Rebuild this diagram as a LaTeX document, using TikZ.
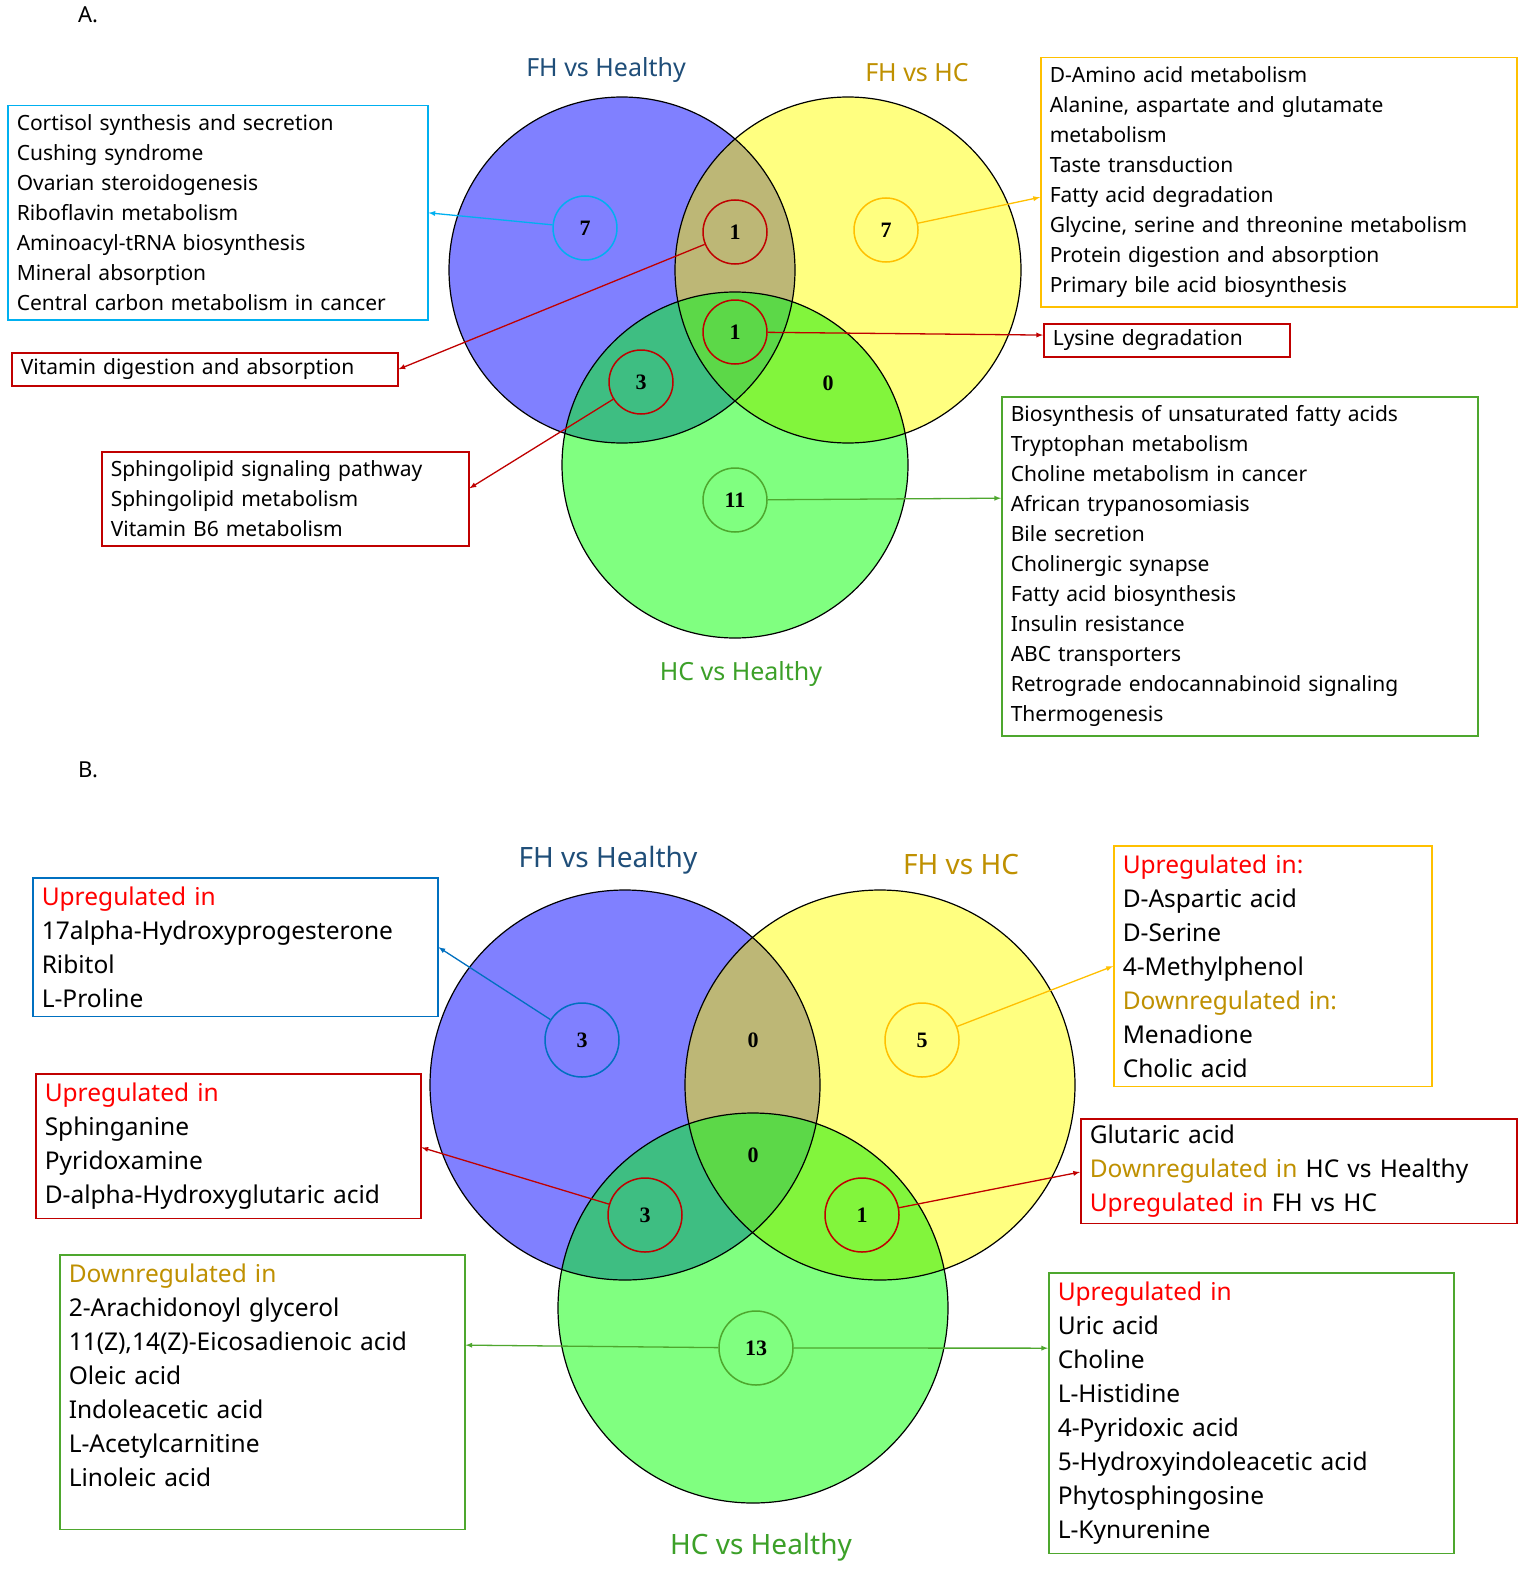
\documentclass[tikz,border=0pt]{standalone}
\usepackage{fontspec}
\setmainfont{Noto Sans}
\newfontfamily\numf{Liberation Serif}
\usetikzlibrary{calc}
\definecolor{cb}{RGB}{128,128,255}
\definecolor{cy}{RGB}{255,255,128}
\definecolor{cg}{RGB}{128,255,128}
\definecolor{cby}{RGB}{189,183,118}
\definecolor{cbg}{RGB}{62,190,130}
\definecolor{cyg}{RGB}{130,245,60}
\definecolor{cbyg}{RGB}{92,216,72}
\definecolor{tblue}{RGB}{31,78,121}
\definecolor{tgold}{RGB}{191,144,0}
\definecolor{tgreen}{RGB}{60,160,40}
\definecolor{bxblue}{RGB}{0,176,240}
\definecolor{bxblue2}{RGB}{0,112,192}
\definecolor{bxyel}{RGB}{255,192,0}
\definecolor{bxred}{RGB}{192,0,0}
\definecolor{bxgreen}{RGB}{78,167,46}
\definecolor{upred}{RGB}{255,0,0}
\begin{document}
\begin{tikzpicture}[x=1pt,y=-1pt,
  ttl/.style={font=\fontsize{25}{30}\selectfont\bfseries},
  boxA/.style={draw,line width=1.5pt,anchor=north west,align=left,inner sep=9pt,font=\fontsize{21}{30}\selectfont},
  boxB/.style={draw,line width=1.5pt,anchor=north west,align=left,inner sep=9pt,font=\fontsize{24.5}{34}\selectfont},
  num/.style={circle,line width=1.5pt,font=\numf\fontsize{22}{22}\selectfont\bfseries},
  arr/.style={line width=1.3pt,-latex}]
\useasboundingbox (0,0) rectangle (1535,1581);
\fill[white] (0,0) rectangle (1535,1581);
\node[font=\fontsize{22}{22}\selectfont\bfseries] (la) at (88,15) {A.};
\node[font=\fontsize{22}{22}\selectfont\bfseries] (lb) at (88,770) {B.};
% ---------- Panel A Venn
\def\CA{(622,270) circle (173)}
\def\CB{(848,270) circle (173)}
\def\CC{(735,465) circle (173)}
\fill[cb] \CA; \fill[cy] \CB; \fill[cg] \CC;
\begin{scope}\clip \CA; \fill[cby] \CB;\end{scope}
\begin{scope}\clip \CA; \fill[cbg] \CC;\end{scope}
\begin{scope}\clip \CB; \fill[cyg] \CC;\end{scope}
\begin{scope}\clip \CA; \clip \CB; \fill[cbyg] \CC;\end{scope}
\draw[line width=1.2pt] \CA; \draw[line width=1.2pt] \CB; \draw[line width=1.2pt] \CC;
\node[ttl,text=tblue] (ta1) at (606,70) {FH vs Healthy};
\node[ttl,text=tgold] (ta2) at (917,73) {FH vs HC};
\node[ttl,text=tgreen] (ta3) at (741,674) {HC vs Healthy};
\node[num,draw=bxblue,minimum size=64pt] (a7) at (585,228) {7};
\node[num,draw=bxred,minimum size=64pt] (a1) at (735,232) {1};
\node[num,draw=bxyel,minimum size=64pt] (a7b) at (886,230) {7};
\node[num,draw=bxred,minimum size=64pt] (a1c) at (735,332) {1};
\node[num,draw=bxred,minimum size=64pt] (a3) at (641,382) {3};
\node[num] (a0) at (828,383) {0};
\node[num,draw=bxgreen,minimum size=64pt] (a11) at (735,500) {11};
\node[boxA,draw=bxblue,text width=402pt] (bA1) at (7,105) {Cortisol synthesis and secretion\\Cushing syndrome\\Ovarian steroidogenesis\\Riboflavin metabolism\\Aminoacyl-tRNA biosynthesis\\Mineral absorption\\Central carbon metabolism in cancer};
\node[boxA,draw=bxred,text width=368pt,inner ysep=6pt] (bA2) at (11,352) {Vitamin digestion and absorption};
\node[boxA,draw=bxred,text width=349pt] (bA3) at (101,451) {Sphingolipid signaling pathway\\Sphingolipid metabolism\\Vitamin B6 metabolism};
\node[boxA,draw=bxyel,text width=458pt] (bA4) at (1040,57) {D-Amino acid metabolism\\Alanine, aspartate and glutamate\\metabolism\\Taste transduction\\Fatty acid degradation\\Glycine, serine and threonine metabolism\\Protein digestion and absorption\\Primary bile acid biosynthesis};
\node[boxA,draw=bxred,text width=228pt,inner ysep=6pt] (bA5) at (1043,323) {Lysine degradation};
\node[boxA,draw=bxgreen,text width=458pt] (bA6) at (1001,396) {Biosynthesis of unsaturated fatty acids\\Tryptophan metabolism\\Choline metabolism in cancer\\African trypanosomiasis\\Bile secretion\\Cholinergic synapse\\Fatty acid biosynthesis\\Insulin resistance\\ABC transporters\\Retrograde endocannabinoid signaling\\Thermogenesis};
\draw[arr,bxblue] (a7) -- (bA1.east);
\draw[arr,bxred] (a1) -- (bA2.east);
\draw[arr,bxred] (a3) -- ($(bA3.north east)!0.39!(bA3.south east)$);
\draw[arr,bxyel] (a7b) -- ($(bA4.north west)!0.56!(bA4.south west)$);
\draw[arr,bxred] (a1c) -- ($(bA5.north west)!0.35!(bA5.south west)$);
\draw[arr,bxgreen] (a11) -- ($(bA6.north west)!0.3!(bA6.south west)$);
% ---------- Panel B Venn
\def\DA{(625,1085) circle (195)}
\def\DB{(880,1085) circle (195)}
\def\DC{(753,1308) circle (195)}
\fill[cb] \DA; \fill[cy] \DB; \fill[cg] \DC;
\begin{scope}\clip \DA; \fill[cby] \DB;\end{scope}
\begin{scope}\clip \DA; \fill[cbg] \DC;\end{scope}
\begin{scope}\clip \DB; \fill[cyg] \DC;\end{scope}
\begin{scope}\clip \DA; \clip \DB; \fill[cbyg] \DC;\end{scope}
\draw[line width=1.2pt] \DA; \draw[line width=1.2pt] \DB; \draw[line width=1.2pt] \DC;
\node[ttl,text=tblue,font=\fontsize{28}{30}\selectfont\bfseries] (tb1) at (608,860) {FH vs Healthy};
\node[ttl,text=tgold,font=\fontsize{28}{30}\selectfont\bfseries] (tb2) at (961,864) {FH vs HC};
\node[ttl,text=tgreen,font=\fontsize{28}{30}\selectfont\bfseries] (tb3) at (761,1547) {HC vs Healthy};
\node[num,draw=bxblue2,minimum size=74pt] (b3) at (582,1040) {3};
\node[num] (b0a) at (753,1040) {0};
\node[num,draw=bxyel,minimum size=74pt] (b5) at (922,1040) {5};
\node[num] (b0b) at (753,1155) {0};
\node[num,draw=bxred,minimum size=74pt] (b3b) at (645,1215) {3};
\node[num,draw=bxred,minimum size=74pt] (b1) at (862,1215) {1};
\node[num,draw=bxgreen,minimum size=74pt] (b13) at (756,1348) {13};
\node[boxB,draw=bxblue2,text width=387pt] (bB1) at (32,877) {\textcolor{upred}{\bfseries Upregulated in}\\17alpha-Hydroxyprogesterone\\Ribitol\\L-Proline};
\node[boxB,draw=bxyel,text width=300pt] (bB2) at (1113,845) {\textcolor{upred}{\bfseries Upregulated in:}\\D-Aspartic acid\\D-Serine\\4-Methylphenol\\\textcolor{tgold}{Downregulated in:}\\Menadione\\Cholic acid};
\node[boxB,draw=bxred,text width=367pt] (bB3) at (35,1073) {\textcolor{upred}{\bfseries Upregulated in}\\Sphinganine\\Pyridoxamine\\D-alpha-Hydroxyglutaric acid};
\node[boxB,draw=bxred,text width=418pt,inner ysep=6pt] (bB4) at (1080,1118) {Glutaric acid\\\textcolor{tgold}{\bfseries Downregulated in} HC vs Healthy\\\textcolor{upred}{\bfseries Upregulated in} FH vs HC};
\node[boxB,draw=bxgreen,text width=387pt,align=left] (bB5) at (59,1254) {\textcolor{tgold}{\bfseries Downregulated in}\\2-Arachidonoyl glycerol\\11(Z),14(Z)-Eicosadienoic acid\\Oleic acid\\Indoleacetic acid\\L-Acetylcarnitine\\Linoleic acid\\\mbox{}};
\node[boxB,draw=bxgreen,text width=387pt] (bB6) at (1048,1272) {\textcolor{upred}{\bfseries Upregulated in}\\Uric acid\\Choline\\L-Histidine\\4-Pyridoxic acid\\5-Hydroxyindoleacetic acid\\Phytosphingosine\\L-Kynurenine};
\draw[arr,bxblue2] (b3) -- ($(bB1.north east)!0.5!(bB1.south east)$);
\draw[arr,bxyel] (b5) -- ($(bB2.north west)!0.5!(bB2.south west)$);
\draw[arr,bxred] (b3b) -- ($(bB3.north east)!0.51!(bB3.south east)$);
\draw[arr,bxred] (b1) -- ($(bB4.north west)!0.51!(bB4.south west)$);
\draw[arr,bxgreen] (b13) -- ($(bB5.north east)!0.33!(bB5.south east)$);
\draw[arr,bxgreen] (b13) -- ($(bB6.north west)!0.27!(bB6.south west)$);
\end{tikzpicture}
\end{document}
